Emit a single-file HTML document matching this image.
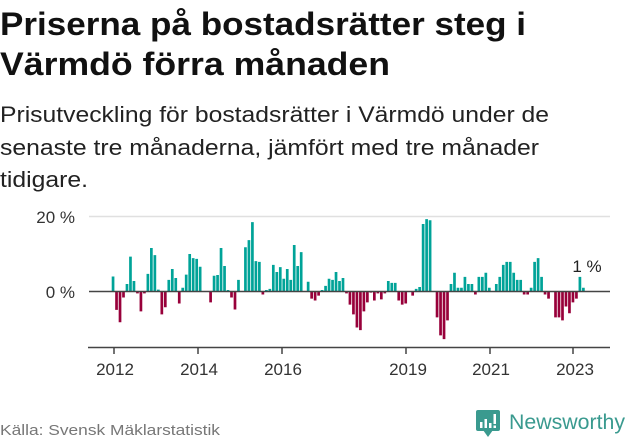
<!DOCTYPE html>
<html><head><meta charset="utf-8"><style>
html,body{margin:0;padding:0;background:#fff;width:631px;height:439px;overflow:hidden}
svg{display:block}
</style></head><body>
<svg id="s" width="631" height="439" xmlns="http://www.w3.org/2000/svg" font-family="Liberation Sans, sans-serif">
<text x="0" y="35" font-size="32" font-weight="bold" fill="#111" textLength="526" lengthAdjust="spacingAndGlyphs">Priserna på bostadsrätter steg i</text>
<text x="0" y="75" font-size="32" font-weight="bold" fill="#111" textLength="390" lengthAdjust="spacingAndGlyphs">Värmdö förra månaden</text>
<text x="0" y="122" font-size="22" fill="#222" textLength="549" lengthAdjust="spacingAndGlyphs">Prisutveckling för bostadsrätter i Värmdö under de</text>
<text x="0" y="155" font-size="22" fill="#222" textLength="539" lengthAdjust="spacingAndGlyphs">senaste tre månaderna, jämfört med tre månader</text>
<text x="0" y="187" font-size="22" fill="#222" textLength="88" lengthAdjust="spacingAndGlyphs">tidigare.</text>
<line x1="89" y1="216.5" x2="610" y2="216.5" stroke="#e0e0e0" stroke-width="1.5"/>
<text x="75" y="223" font-size="17" fill="#333" text-anchor="end">20 %</text>
<text x="75" y="298" font-size="17" fill="#333" text-anchor="end">0 %</text>
<g id="bars"></g>
<line x1="89" y1="291.5" x2="610" y2="291.5" stroke="#444" stroke-width="1.6"/>
<line x1="88" y1="347.5" x2="610" y2="347.5" stroke="#444" stroke-width="1.6"/>
<g stroke="#444" stroke-width="1.5">
<line x1="114" y1="347" x2="114" y2="354"/><line x1="198" y1="347" x2="198" y2="354"/><line x1="282" y1="347" x2="282" y2="354"/><line x1="406" y1="347" x2="406" y2="354"/><line x1="490" y1="347" x2="490" y2="354"/><line x1="573" y1="347" x2="573" y2="354"/>
</g>
<g font-size="17" fill="#333" text-anchor="middle">
<text x="115" y="375">2012</text><text x="199" y="375">2014</text><text x="283" y="375">2016</text><text x="408" y="375">2019</text><text x="491" y="375">2021</text><text x="575" y="375">2023</text>
</g>
<text x="587" y="272" font-size="17" fill="#222" text-anchor="middle">1 %</text>
<text x="0" y="435" font-size="14.5" fill="#777" textLength="220" lengthAdjust="spacingAndGlyphs">Källa: Svensk Mäklarstatistik</text>
<g fill="#3a9a8f">
<rect x="476" y="410" width="24" height="21" rx="2"/>
<polygon points="483,430 493,430 488,437"/>
<text x="509" y="429" font-size="21" textLength="116" lengthAdjust="spacingAndGlyphs">Newsworthy</text>
</g>
<g fill="#fff">
<rect x="480" y="422" width="2.5" height="6"/><rect x="484.5" y="419" width="2.5" height="9"/><rect x="489" y="423" width="2.5" height="5"/><rect x="493.5" y="414" width="2.5" height="10"/><rect x="493.5" y="425.5" width="2.5" height="2.5"/>
</g>
</svg>
<script>
var v={0:4,1:-4.9,2:-8.2,3:-1.6,4:2,5:9.3,6:2.8,7:-0.5,8:-5.3,9:-0.5,10:4.7,11:11.6,12:9.7,13:0.5,14:-6.1,15:-4.2,16:3.1,17:6,18:3.6,19:-3.2,20:1,21:4.5,22:10,23:8.9,24:8.7,25:6.6,28:-2.9,29:4.2,30:4.4,31:11.6,32:6.8,33:0.4,34:-1.6,35:-4.8,36:3.1,38:11.8,39:13.7,40:18.5,41:8.1,42:7.9,43:-0.8,44:0.4,45:0.7,46:7.1,47:5.2,48:6.5,49:3.4,50:6,51:3.1,52:12.4,53:6.8,54:10.5,56:2.6,57:-1.9,58:-2.4,59:-1.1,60:0.4,61:1.5,62:3.4,63:3.1,64:5.2,65:2.8,66:3.6,67:-0.5,68:-3.5,69:-6.1,70:-9.6,71:-10.3,72:-5.3,73:-2.9,74:-0.3,75:-2.4,76:-0.5,77:-2.1,78:-0.5,79:2.8,80:2.3,81:2.3,82:-2.4,83:-3.5,84:-3.2,86:-1.1,87:0.7,88:1.2,89:18,90:19.3,91:19,93:-6.9,94:-11.7,95:-12.7,96:-7.7,97:2,98:5,99:1,100:1,101:3.9,102:2,103:2,104:-0.8,105:3.9,106:3.9,107:5,108:1,110:2,111:3.9,112:7.1,113:7.9,114:7.9,115:5,116:3.1,117:3.1,118:-0.8,119:-0.8,120:1,121:7.9,122:8.9,123:3.9,124:-0.8,125:-1.9,127:-6.9,128:-6.9,129:-7.7,130:-4,131:-5.8,132:-2.9,133:-1.9,134:3.9,135:1};
var g=document.getElementById('bars'),h='';
for(var k in v){var x=113+k*3.484-1.3,val=v[k],ht=Math.abs(val)*3.75,y=val>0?291.5-ht:291.5;
h+='<rect x="'+x.toFixed(2)+'" y="'+y.toFixed(2)+'" width="2.7" height="'+ht.toFixed(2)+'" fill="'+(val>0?'#00a398':'#98003a')+'"/>';}
g.innerHTML=h;
</script>
</body></html>
